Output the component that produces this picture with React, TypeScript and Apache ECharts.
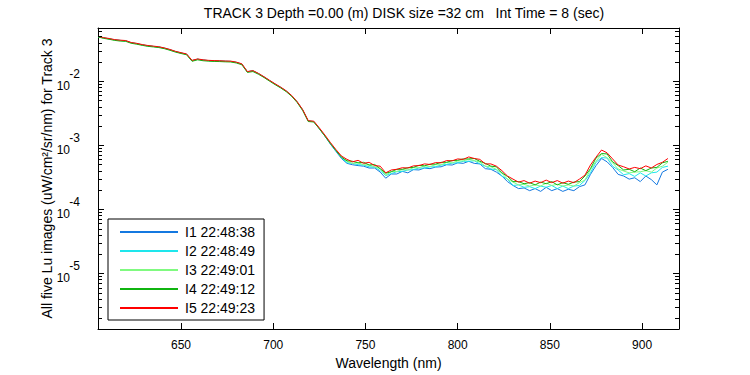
import React, { useEffect, useRef } from 'react';
import * as echarts from 'echarts';

const TITLE = 'TRACK 3 Depth =0.00 (m) DISK size =32 cm   Int Time = 8 (sec)';
const X_NAME = 'Wavelength (nm)';
const Y_NAME = 'All five Lu images (uW/cm\u00b2/sr/nm) for Track 3';
const SERIES_NAMES = ['I1 22:48:38', 'I2 22:48:49', 'I3 22:49:01', 'I4 22:49:12', 'I5 22:49:23'];
const SERIES_COLORS = ['#1478e0', '#1ee6ec', '#80fa80', '#10b410', '#ff0000'];

const X_MIN = 605;
const X_MAX = 920;
const Y_MIN = 1.35e-6;
const Y_MAX = 0.0675;
const DECADE_EXPONENTS = [-6, -5, -4, -3, -2];
const MINOR_MULTIPLES = [2, 3, 4, 5, 6, 7, 8, 9];

const WAVELENGTHS = [
  605, 608, 611, 614, 617, 620, 623, 626, 629, 632,
  635, 638, 641, 644, 647, 650, 653, 656, 659, 662,
  665, 668, 671, 674, 677, 680, 683, 686, 689, 692,
  695, 698, 701, 704, 707, 710, 713, 716, 719, 722,
  725, 728, 731, 734, 737, 740, 743, 746, 749, 752,
  755, 758, 761, 764, 767, 770, 773, 776, 779, 782,
  785, 788, 791, 794, 797, 800, 803, 806, 809, 812,
  815, 818, 821, 824, 827, 830, 833, 836, 839, 842,
  845, 848, 851, 854, 857, 860, 863, 866, 869, 872,
  875, 878, 881, 884, 887, 890, 893, 896, 899, 902,
  905, 908, 911, 914,
];

const I1 = [
  0.0496, 0.0473, 0.0458, 0.0441, 0.0432, 0.0426, 0.0397, 0.0385, 0.0368, 0.0356,
  0.0348, 0.0341, 0.0327, 0.0309, 0.0289, 0.0275, 0.0263, 0.0209, 0.0220, 0.0213,
  0.0209, 0.0207, 0.0206, 0.0204, 0.0203, 0.0196, 0.0184, 0.0140, 0.0145, 0.0131,
  0.0116, 0.0102, 0.00899, 0.00799, 0.00700, 0.00591, 0.00472, 0.00354, 0.00238, 0.00233,
  0.00181, 0.00139, 0.00104, 0.000800, 0.000620,
  5.2e-4, 4.95e-4, 4.8e-4, 4.7e-4, 4.4e-4, 4.4e-4, 3.8e-4, 3.05e-4, 3.55e-4, 3.55e-4,
  3.9e-4, 3.7e-4, 4.15e-4, 4.1e-4, 4.4e-4, 4.3e-4, 4.55e-4, 4.6e-4, 4.95e-4, 4.9e-4,
  5.3e-4, 5.2e-4, 5.6e-4, 5.2e-4, 5.1e-4, 4.3e-4, 4.2e-4, 3.8e-4, 3.3e-4, 2.7e-4,
  2.35e-4, 2.1e-4, 2.15e-4, 1.95e-4, 2.1e-4, 1.9e-4, 2.2e-4, 1.95e-4, 2.1e-4, 1.9e-4,
  2.05e-4, 1.95e-4, 2.25e-4, 2.4e-4, 3.5e-4, 4.8e-4, 6.2e-4, 5.5e-4, 4.5e-4, 3.5e-4,
  3.3e-4, 2.95e-4, 3.1e-4, 2.7e-4, 3.3e-4, 2.9e-4, 2.4e-4, 3.8e-4, 4.2e-4,
];

const I2 = [
  0.0496, 0.0473, 0.0458, 0.0441, 0.0432, 0.0426, 0.0397, 0.0385, 0.0368, 0.0356,
  0.0348, 0.0341, 0.0327, 0.0309, 0.0289, 0.0275, 0.0263, 0.0209, 0.0220, 0.0213,
  0.0209, 0.0207, 0.0206, 0.0204, 0.0203, 0.0196, 0.0184, 0.0140, 0.0145, 0.0131,
  0.0116, 0.0102, 0.00899, 0.00799, 0.00700, 0.00591, 0.00472, 0.00354, 0.00238, 0.00234,
  0.00182, 0.00140, 0.00106, 0.000815, 0.000640,
  5.3e-4, 5.2e-4, 4.95e-4, 4.9e-4, 4.6e-4, 4.55e-4, 4.0e-4, 3.35e-4, 3.6e-4, 3.85e-4,
  3.9e-4, 4.1e-4, 4.15e-4, 4.4e-4, 4.4e-4, 4.6e-4, 4.6e-4, 4.9e-4, 5.0e-4, 5.25e-4,
  5.3e-4, 5.6e-4, 5.6e-4, 5.7e-4, 5.1e-4, 4.7e-4, 4.25e-4, 4.15e-4, 3.3e-4, 2.95e-4,
  2.35e-4, 2.4e-4, 2.2e-4, 2.25e-4, 2.1e-4, 2.3e-4, 2.2e-4, 2.35e-4, 2.1e-4, 2.3e-4,
  2.1e-4, 2.3e-4, 2.35e-4, 2.8e-4, 3.7e-4, 5.4e-4, 6.4e-4, 6.3e-4, 4.7e-4, 4.1e-4,
  3.45e-4, 3.6e-4, 3.25e-4, 3.7e-4, 3.3e-4, 3.7e-4, 3.8e-4, 4.5e-4, 4.7e-4,
];

const I3 = [
  0.0494, 0.0471, 0.0456, 0.0438, 0.0429, 0.0424, 0.0395, 0.0383, 0.0366, 0.0355,
  0.0347, 0.0339, 0.0325, 0.0307, 0.0288, 0.0274, 0.0262, 0.0208, 0.0219, 0.0212,
  0.0208, 0.0206, 0.0205, 0.0203, 0.0202, 0.0195, 0.0183, 0.0139, 0.0144, 0.0130,
  0.0115, 0.0101, 0.00894, 0.00795, 0.00696, 0.00588, 0.00470, 0.00353, 0.00237, 0.00233,
  0.00183, 0.00142, 0.00108, 0.000835, 0.000655,
  5.55e-4, 5.2e-4, 5.3e-4, 4.95e-4, 4.9e-4, 4.6e-4, 4.3e-4, 3.4e-4, 3.85e-4, 3.9e-4,
  4.15e-4, 4.1e-4, 4.45e-4, 4.45e-4, 4.75e-4, 4.65e-4, 4.95e-4, 4.95e-4, 5.35e-4, 5.3e-4,
  5.65e-4, 5.7e-4, 6.0e-4, 5.75e-4, 5.45e-4, 4.7e-4, 4.6e-4, 4.2e-4, 3.65e-4, 2.95e-4,
  2.65e-4, 2.4e-4, 2.45e-4, 2.3e-4, 2.4e-4, 2.3e-4, 2.55e-4, 2.35e-4, 2.45e-4, 2.3e-4,
  2.4e-4, 2.3e-4, 2.6e-4, 2.85e-4, 4.15e-4, 5.6e-4, 7.2e-4, 6.4e-4, 5.3e-4, 4.25e-4,
  3.95e-4, 3.7e-4, 3.8e-4, 3.85e-4, 4.0e-4, 3.8e-4, 4.4e-4, 4.7e-4, 5.4e-4,
];

const I4 = [
  0.0490, 0.0466, 0.0450, 0.0433, 0.0422, 0.0418, 0.0390, 0.0377, 0.0362, 0.0349,
  0.0342, 0.0334, 0.0321, 0.0303, 0.0284, 0.0270, 0.0258, 0.0204, 0.0215, 0.0208,
  0.0205, 0.0203, 0.0202, 0.0200, 0.0199, 0.0192, 0.0180, 0.0137, 0.0141, 0.0128,
  0.0114, 0.0100, 0.00882, 0.00784, 0.00687, 0.00580, 0.00463, 0.00347, 0.00234, 0.00230,
  0.00180, 0.00139, 0.00106, 0.000825, 0.000650,
  5.7e-4, 5.6e-4, 5.3e-4, 5.4e-4, 4.9e-4, 5.0e-4, 4.3e-4, 3.65e-4, 3.85e-4, 4.2e-4,
  4.2e-4, 4.45e-4, 4.5e-4, 4.85e-4, 4.75e-4, 5.05e-4, 5.05e-4, 5.4e-4, 5.4e-4, 5.75e-4,
  5.8e-4, 6.1e-4, 6.1e-4, 6.2e-4, 5.6e-4, 5.2e-4, 4.7e-4, 4.6e-4, 3.7e-4, 3.25e-4,
  2.7e-4, 2.7e-4, 2.5e-4, 2.6e-4, 2.4e-4, 2.65e-4, 2.5e-4, 2.7e-4, 2.4e-4, 2.6e-4,
  2.45e-4, 2.65e-4, 2.7e-4, 3.3e-4, 4.3e-4, 6.3e-4, 7.4e-4, 7.3e-4, 5.5e-4, 4.8e-4,
  4.1e-4, 4.2e-4, 3.85e-4, 4.4e-4, 4.0e-4, 4.4e-4, 4.5e-4, 5.3e-4, 5.6e-4,
];

const I5 = [
  0.0501, 0.0478, 0.0463, 0.0445, 0.0436, 0.0430, 0.0401, 0.0389, 0.0372, 0.0360,
  0.0352, 0.0344, 0.0330, 0.0312, 0.0292, 0.0278, 0.0266, 0.0211, 0.0222, 0.0215,
  0.0211, 0.0209, 0.0208, 0.0206, 0.0205, 0.0198, 0.0186, 0.0141, 0.0146, 0.0132,
  0.0117, 0.0103, 0.00908, 0.00807, 0.00707, 0.00597, 0.00477, 0.00358, 0.00241, 0.00237,
  0.00186, 0.00144, 0.00110, 0.000854, 0.000677,
  6.0e-4, 5.5e-4, 5.8e-4, 5.2e-4, 5.4e-4, 4.8e-4, 4.7e-4, 3.7e-4, 4.1e-4, 4.2e-4,
  4.45e-4, 4.4e-4, 4.75e-4, 4.8e-4, 5.1e-4, 5.0e-4, 5.35e-4, 5.3e-4, 5.75e-4, 5.7e-4,
  6.1e-4, 6.0e-4, 6.55e-4, 6.2e-4, 6.0e-4, 5.1e-4, 5.1e-4, 4.7e-4, 4.0e-4, 3.3e-4,
  2.95e-4, 2.65e-4, 2.8e-4, 2.55e-4, 2.75e-4, 2.6e-4, 2.85e-4, 2.6e-4, 2.8e-4, 2.55e-4,
  2.75e-4, 2.6e-4, 2.95e-4, 3.4e-4, 4.9e-4, 6.5e-4, 8.4e-4, 7.6e-4, 6.1e-4, 4.9e-4,
  4.6e-4, 4.25e-4, 4.5e-4, 4.3e-4, 4.75e-4, 4.4e-4, 5.0e-4, 5.4e-4, 6.2e-4,
];

const SERIES_VALUES = [I1, I2, I3, I4, I5];

const FONT = '"Liberation Sans", Arial, Helvetica, sans-serif';

export default function App() {
  const ref = useRef<HTMLDivElement>(null);

  useEffect(() => {
    if (!ref.current) return;
    const chart = echarts.init(ref.current, undefined, { renderer: 'svg' });

    const minorTicks: number[][] = [];
    DECADE_EXPONENTS.forEach((e) => {
      MINOR_MULTIPLES.forEach((m) => {
        const v = m * Math.pow(10, e);
        if (v > Y_MIN && v < Y_MAX) minorTicks.push([X_MIN, v]);
      });
    });

    const lineSeries = SERIES_NAMES.map((name, si) => ({
      name,
      type: 'line',
      symbol: 'none',
      data: WAVELENGTHS.map((w, i) => [w, SERIES_VALUES[si][i]]),
      lineStyle: { width: 1, color: SERIES_COLORS[si] },
      itemStyle: { color: SERIES_COLORS[si] },
      emphasis: { disabled: true },
      z: 2 + si,
    }));

    const axisCommon = {
      min: X_MIN,
      max: X_MAX,
      axisLine: { show: true, lineStyle: { color: '#000', width: 1 } },
      axisTick: { show: true, inside: true, length: 6, lineStyle: { color: '#000' } },
      splitLine: { show: false },
    };

    const yCommon = {
      type: 'log',
      logBase: 10,
      min: Y_MIN,
      max: Y_MAX,
      axisLine: { show: true, lineStyle: { color: '#000', width: 1 } },
      axisTick: { show: true, inside: true, length: 6, lineStyle: { color: '#000' } },
      splitLine: { show: false },
    };

    chart.setOption({
      animation: false,
      backgroundColor: '#fff',
      textStyle: { fontFamily: FONT },
      title: {
        text: TITLE,
        left: 399,
        top: 1,
        textAlign: 'center',
        textStyle: { fontSize: 14, fontWeight: 'normal', color: '#000', fontFamily: FONT },
      },
      grid: { left: 98, top: 28, width: 581, height: 302, containLabel: false },
      legend: {
        data: SERIES_NAMES,
        orient: 'vertical',
        left: 108,
        top: 219,
        itemWidth: 58,
        itemHeight: 14,
        itemGap: 5,
        padding: [6, 9, 5, 11],
        borderColor: '#000',
        borderWidth: 1,
        backgroundColor: '#fff',
        selectedMode: false,
        itemStyle: { opacity: 0 },
        textStyle: { fontSize: 14, color: '#000', fontFamily: FONT, padding: [0, 0, 0, 2] },
        z: 20,
      },
      xAxis: [
        {
          ...axisCommon,
          type: 'value',
          position: 'bottom',
          name: X_NAME,
          nameLocation: 'middle',
          nameGap: 27,
          nameTextStyle: { fontSize: 14, color: '#000', fontFamily: FONT },
          axisLabel: {
            show: true,
            color: '#000',
            fontSize: 12,
            margin: 10,
            fontFamily: FONT,
            showMinLabel: false,
            showMaxLabel: false,
          },
        },
        {
          ...axisCommon,
          type: 'value',
          position: 'top',
          axisLabel: { show: false },
        },
      ],
      yAxis: [
        {
          ...yCommon,
          position: 'left',
          name: Y_NAME,
          nameLocation: 'middle',
          nameGap: 44,
          nameMoveOverlap: false,
          nameTextStyle: { fontSize: 14, color: '#000', fontFamily: FONT },
          axisLabel: {
            show: true,
            margin: 18,
            showMinLabel: false,
            showMaxLabel: false,
            formatter: (v: number) => `{s|${Math.round(Math.log10(v))}}\n{b|10}{sp| }`,
            rich: {
              s: { fontSize: 12, color: '#000', fontFamily: FONT, lineHeight: 9, align: 'right' },
              b: { fontSize: 12, color: '#000', fontFamily: FONT, lineHeight: 14, align: 'right' },
              sp: { fontSize: 12, color: '#000', fontFamily: FONT, lineHeight: 14, align: 'right', width: 10 },
            },
          },
        },
        {
          ...yCommon,
          position: 'right',
          axisLabel: { show: false },
        },
      ],
      series: [
        ...lineSeries,
        {
          type: 'custom',
          name: 'minorTicks',
          silent: true,
          clip: false,
          z: 10,
          data: minorTicks,
          renderItem: (_params: any, api: any) => {
            const v = api.value(1);
            const l = api.coord([X_MIN, v]);
            const r = api.coord([X_MAX, v]);
            const y = Math.round(l[1]) + 0.5;
            return {
              type: 'group',
              children: [
                { type: 'line', shape: { x1: l[0], y1: y, x2: l[0] + 4, y2: y }, style: { stroke: '#000', lineWidth: 1 } },
                { type: 'line', shape: { x1: r[0] - 4, y1: y, x2: r[0], y2: y }, style: { stroke: '#000', lineWidth: 1 } },
              ],
            };
          },
        },
      ],
    });

    return () => chart.dispose();
  }, []);

  return (
    <div
      ref={ref}
      style={{ position: 'absolute', left: 0, top: 0, width: 750, height: 375, background: '#fff' }}
    />
  );
}
